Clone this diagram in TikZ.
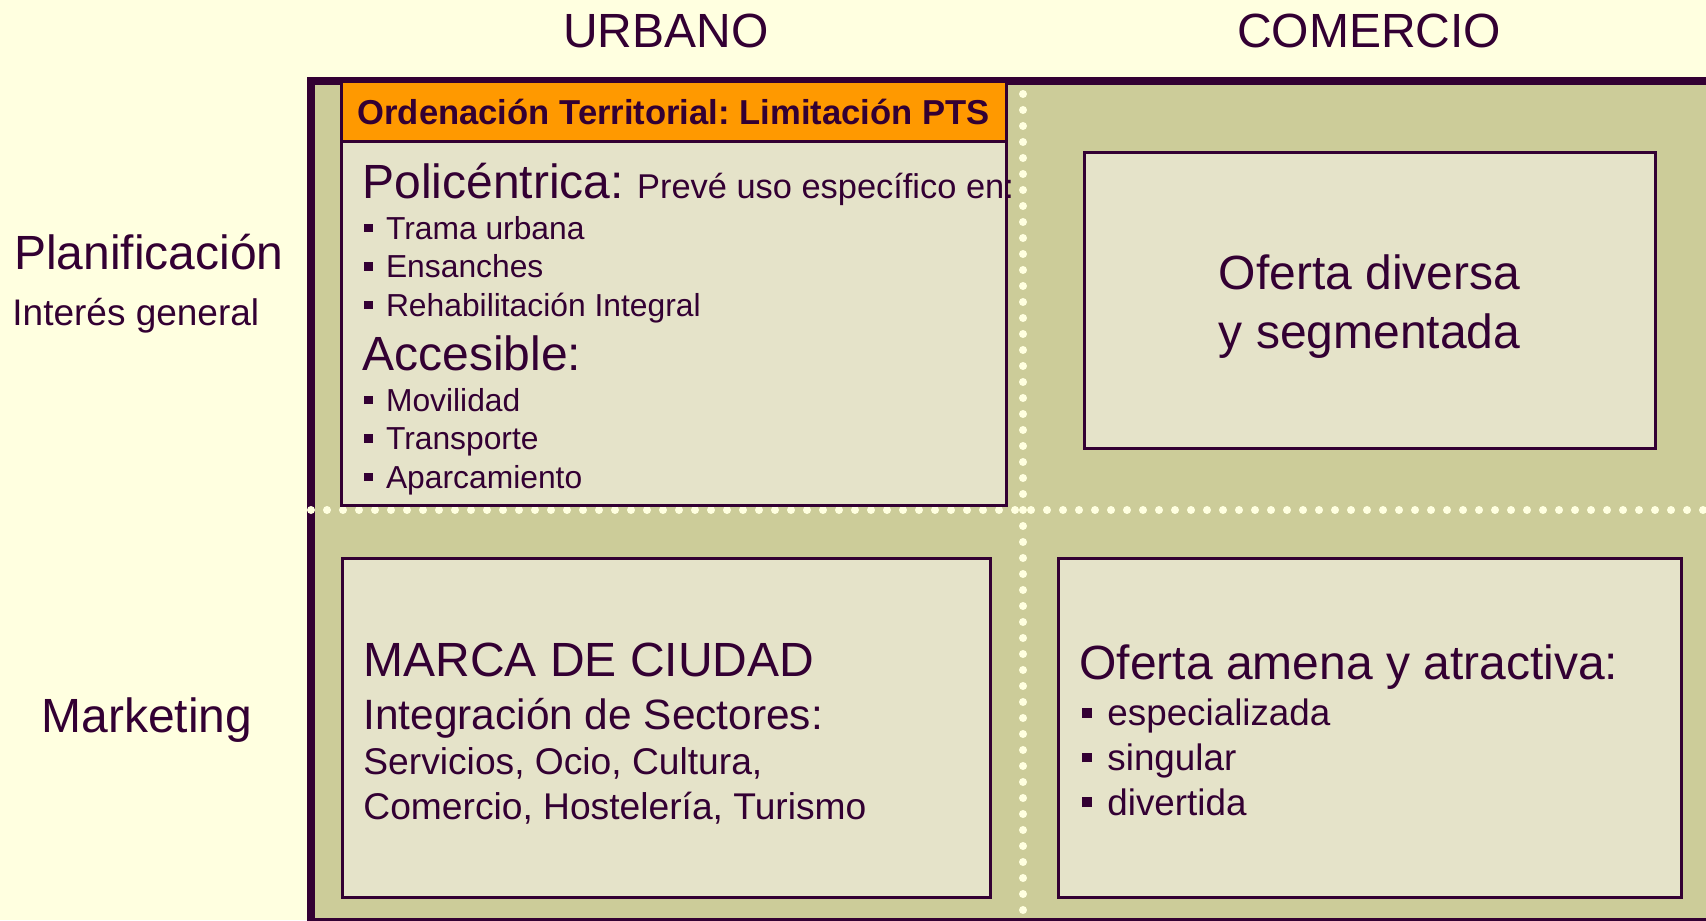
\documentclass[tikz,border=0pt]{standalone}
\usepackage{fontspec}
\setmainfont{Liberation Sans}
\usetikzlibrary{positioning}

\definecolor{paper}{HTML}{FFFFE0}
\definecolor{olive}{HTML}{CCCC99}
\definecolor{cream}{HTML}{E5E3C9}
\definecolor{ink}{HTML}{330033}
\definecolor{amber}{HTML}{FF9900}

\frenchspacing
\newcommand{\sqbullet}{\rule[0.22em]{0.26em}{0.26em}\hspace{0.42em}}
\newcommand{\fhuge}{\fontsize{24}{28}\selectfont}
\newcommand{\fmid}{\fontsize{17.2}{20}\selectfont}
\newcommand{\fitem}{\fontsize{15.9}{19}\selectfont}

\begin{document}
\begin{tikzpicture}[
        x=0.5pt, y=-0.5pt,
        cell/.style={draw=ink, fill=cream, line width=1.5pt, inner sep=0pt},
        lbl/.style={text=ink, anchor=base west, inner sep=0pt},
        dots/.style={draw=paper, line width=4pt, line cap=round, dash pattern=on 0pt off 8pt}
    ]

    % Canvas
    \useasboundingbox (0,0) rectangle (1706,920);
    \fill[paper] (0,0) rectangle (1706,920);
    \clip (0,0) rectangle (1706,920);

    % Matrix panel
    \draw[ink, fill=olive, line width=4pt] (311,81) rectangle (1730,922);
    \draw[dots] (1023,94) -- (1023,920);
    \draw[dots] (311,510) -- (1706,510);

    % Column headings
    \node[lbl, anchor=base, font=\fhuge] (urbano) at (666,48) {URBANO};
    \node[lbl, anchor=base, font=\fhuge] (comercio) at (1369,48) {COMERCIO};

    % Row headings
    \node[lbl, anchor=base, font=\fhuge] (planif) at (149,269) {Planificación};
    \node[lbl, font=\fontsize{18.5}{22}\selectfont] (interes) at (12,325) {Interés general};
    \node[lbl, anchor=base, font=\fhuge] (marketing) at (147,732) {Marketing};

    % Planificacion / Urbano
    \node[cell, minimum width=332.5pt, minimum height=182pt] (plan) at (673.5,323) {};
    \node[cell, fill=amber, minimum width=332.5pt, minimum height=29.5pt] (pts) at (673.5,111.5) {};
    \node[lbl, anchor=base, font=\bfseries\fontsize{17.3}{20}\selectfont] (ptstxt) at (673.5,125)
        {Ordenación Territorial: Limitación PTS};
    \node[lbl, font=\fhuge] (poli) at (362,198) {Policéntrica: {\fmid Prevé uso específico en:}};
    \foreach \t [count=\i] in {Trama urbana, Ensanches, Rehabilitación Integral}
        \node[lbl, font=\fitem] (poli-\i) at (364,{200.5+38.5*\i}) {\sqbullet\t};
    \node[lbl, font=\fhuge] (acces) at (362,370) {Accesible:};
    \foreach \t [count=\i] in {Movilidad, Transporte, Aparcamiento}
        \node[lbl, font=\fitem] (acces-\i) at (364,{372.5+38.5*\i}) {\sqbullet\t};

    % Planificacion / Comercio
    \node[cell, minimum width=285.5pt, minimum height=148pt] (diversa) at (1369.5,300) {};
    \node[lbl, anchor=base, font=\fhuge] (div-1) at (1369.5,289) {Oferta diversa};
    \node[lbl, anchor=base, font=\fhuge] (div-2) at (1369.5,348) {y segmentada};

    % Marketing / Urbano
    \node[cell, minimum width=324pt, minimum height=169.5pt] (marca) at (666,727.5) {};
    \node[lbl, font=\fhuge] (marca-1) at (363,676) {MARCA DE CIUDAD};
    \node[lbl, font=\fontsize{21.2}{25}\selectfont] (marca-2) at (363,729) {Integración de Sectores:};
    \node[lbl, font=\fontsize{18.6}{22}\selectfont] (marca-3) at (363,774) {Servicios, Ocio, Cultura,};
    \node[lbl, font=\fontsize{18.6}{22}\selectfont] (marca-4) at (363,819) {Comercio, Hostelería, Turismo};

    % Marketing / Comercio
    \node[cell, minimum width=311.5pt, minimum height=169.5pt] (amena) at (1369.5,727.5) {};
    \node[lbl, font=\fhuge] (amena-0) at (1079,679) {Oferta amena y atractiva:};
    \foreach \t [count=\i] in {especializada, singular, divertida}
        \node[lbl, font=\fontsize{18.4}{22}\selectfont] (amena-\i) at (1082,{681+44.7*\i}) {\sqbullet\t};

\end{tikzpicture}
\end{document}
